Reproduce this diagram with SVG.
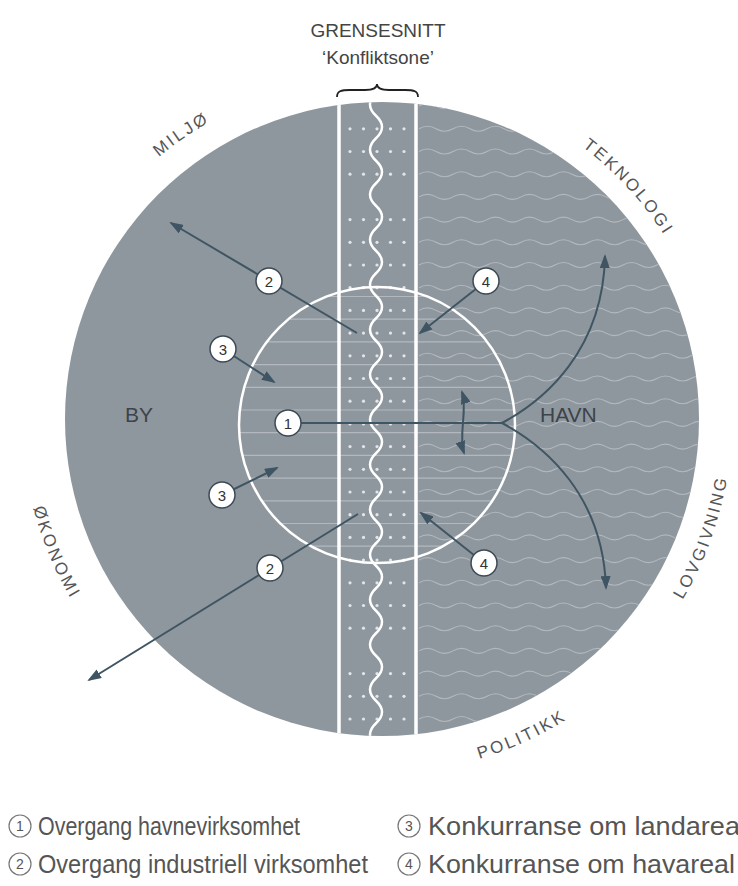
<svg xmlns="http://www.w3.org/2000/svg" xmlns:xlink="http://www.w3.org/1999/xlink" width="738" height="886" viewBox="0 0 738 886">
<style>
.t{font-family:"Liberation Sans","DejaVu Sans",sans-serif}
.ttl{font-size:19px;fill:#444;text-anchor:middle}
.lbl{font-size:17px;fill:#555;letter-spacing:2.6px}
.reg{font-size:21px;fill:#3c434a}
.num{font-size:15px;fill:#333;text-anchor:middle}
.nc{fill:#fff;stroke:#3d4a55;stroke-width:1.5}
.arr{fill:none;stroke:#3f5563;stroke-width:2}
.leg{font-size:25px;fill:#555}
.lc{fill:none;stroke:#777;stroke-width:1.2}
.lnum{font-size:14px;fill:#555;text-anchor:middle}
.sea{fill:none;stroke:#b2b8be;stroke-width:1.1}
.hl{stroke:#b2b8be;stroke-width:1.2}
.dot{fill:#e2e6e9}
</style>
<defs>
<clipPath id="cBig"><circle cx="382" cy="419" r="317"/></clipPath>
<clipPath id="cIn"><circle cx="377" cy="425" r="138"/></clipPath>
<marker id="ah" viewBox="0 0 14 10" refX="12" refY="5" markerWidth="14" markerHeight="10" markerUnits="userSpaceOnUse" orient="auto-start-reverse"><path d="M0,0 L14,5 L0,10 z" fill="#3f5563"/></marker>
<path id="sw" d="M419,0 q8.5,-5 17,0 t17,0 t17,0 t17,0 t17,0 t17,0 t17,0 t17,0 t17,0 t17,0 t17,0 t17,0 t17,0 t17,0 t17,0 t17,0 t17,0 t17,0"/>
<path id="hline" d="M230,0 H525"/>
<g id="dr"><circle cx="350" cy="0" r="1.6"/><circle cx="363.5" cy="0" r="1.6"/><circle cx="377" cy="0" r="1.6"/><circle cx="390.5" cy="0" r="1.6"/><circle cx="404" cy="0" r="1.6"/></g>
<path id="pMil" d="M48.4,327.9 A341,341 0 0 1 409.7,79.6"/>
<path id="pTek" d="M420.3,80.8 A341,341 0 0 1 717.6,402.9"/>
<path id="pLov" d="M554.5,726.4 A355,355 0 0 0 710.6,297.6"/>
<path id="pPol" d="M282.7,761.3 A355,355 0 0 0 697.7,571.3"/>
<path id="pOko" d="M38.3,312.9 A355,355 0 0 0 213.6,734.2"/>
</defs>

<g id="title" class="t">
<text class="ttl" x="378" y="37">GRENSESNITT</text>
<text class="ttl" x="378" y="64">‘Konfliktsone’</text>
<path d="M337,97 C337,91 341,90 350,90 L365,90 C373,90 377,88 377,84 C377,88 381,90 389,90 L405,90 C414,90 418,91 418,97" fill="none" stroke="#222" stroke-width="1.8"/>
</g>

<g id="big-circle">
<circle cx="382" cy="419" r="317" fill="#8f979e"/>
</g>

<g id="havn-sea" clip-path="url(#cBig)" class="sea">
<use href="#sw" y="106.1"/><use href="#sw" y="128.8"/><use href="#sw" y="151.5"/><use href="#sw" y="174.2"/><use href="#sw" y="196.9"/><use href="#sw" y="219.6"/><use href="#sw" y="242.3"/><use href="#sw" y="265"/><use href="#sw" y="287.7"/><use href="#sw" y="310.4"/><use href="#sw" y="333.1"/><use href="#sw" y="355.8"/><use href="#sw" y="378.5"/><use href="#sw" y="401.2"/><use href="#sw" y="423.9"/><use href="#sw" y="446.6"/><use href="#sw" y="469.3"/><use href="#sw" y="492"/><use href="#sw" y="514.7"/><use href="#sw" y="537.4"/><use href="#sw" y="560.1"/><use href="#sw" y="582.8"/><use href="#sw" y="605.5"/><use href="#sw" y="628.2"/><use href="#sw" y="650.9"/><use href="#sw" y="673.6"/><use href="#sw" y="696.3"/><use href="#sw" y="719"/>
</g>

<g id="inner-lines" clip-path="url(#cIn)" class="hl">
<use href="#hline" y="296.5"/><use href="#hline" y="319.2"/><use href="#hline" y="341.9"/><use href="#hline" y="364.6"/><use href="#hline" y="387.3"/><use href="#hline" y="410"/><use href="#hline" y="432.7"/><use href="#hline" y="455.4"/><use href="#hline" y="478.1"/><use href="#hline" y="500.8"/><use href="#hline" y="523.5"/><use href="#hline" y="546.2"/>
</g>

<g id="strip" clip-path="url(#cBig)">
<g class="dot">
<use href="#dr" y="128.8"/><use href="#dr" y="151.5"/><use href="#dr" y="174.2"/><use href="#dr" y="219.6"/><use href="#dr" y="242.3"/><use href="#dr" y="265"/><use href="#dr" y="287.7"/><use href="#dr" y="310.4"/><use href="#dr" y="333.1"/><use href="#dr" y="355.8"/><use href="#dr" y="378.5"/><use href="#dr" y="401.2"/><use href="#dr" y="423.9"/><use href="#dr" y="446.6"/><use href="#dr" y="469.3"/><use href="#dr" y="492"/><use href="#dr" y="514.7"/><use href="#dr" y="537.4"/><use href="#dr" y="560.1"/><use href="#dr" y="582.8"/><use href="#dr" y="605.5"/><use href="#dr" y="628.2"/><use href="#dr" y="673.6"/><use href="#dr" y="696.3"/><use href="#dr" y="719"/>
</g>
<path d="M376,70.75 q12,11.25 0,22.5 t0,22.5 t0,22.5 t0,22.5 t0,22.5 t0,22.5 t0,22.5 t0,22.5 t0,22.5 t0,22.5 t0,22.5 t0,22.5 t0,22.5 t0,22.5 t0,22.5 t0,22.5 t0,22.5 t0,22.5 t0,22.5 t0,22.5 t0,22.5 t0,22.5 t0,22.5 t0,22.5 t0,22.5 t0,22.5 t0,22.5 t0,22.5 t0,22.5 t0,22.5" fill="none" stroke="#fff" stroke-width="2.5"/>
<line x1="339" y1="90" x2="339" y2="750" stroke="#fff" stroke-width="3.5"/>
<line x1="416" y1="90" x2="416" y2="750" stroke="#fff" stroke-width="3.5"/>
</g>

<g id="inner-circle">
<circle cx="377" cy="425" r="138" fill="none" stroke="#fff" stroke-width="2.5"/>
</g>

<g id="connectors" class="arr">
<path d="M357,333 L171,223" marker-end="url(#ah)"/>
<path d="M358,514 L89,680" marker-end="url(#ah)"/>
<path d="M486,281 L420,333" marker-end="url(#ah)"/>
<path d="M484,563 L421,513" marker-end="url(#ah)"/>
<path d="M223,349 L274,382" marker-end="url(#ah)"/>
<path d="M222,495 L277,468" marker-end="url(#ah)"/>
<path d="M288,423 L502,423"/>
<path d="M502,423 C545,400 603,350 605,256" marker-end="url(#ah)"/>
<path d="M502,423 C545,446 603,495 606,588" marker-end="url(#ah)"/>
<path d="M462,392 C468,410 458,435 464,453" marker-start="url(#ah)" marker-end="url(#ah)"/>
</g>

<g id="n1" class="t"><circle class="nc" cx="288" cy="423" r="13"/><text class="num" x="288" y="428.5">1</text></g>
<g id="n2a" class="t"><circle class="nc" cx="269" cy="281" r="13"/><text class="num" x="269" y="286.5">2</text></g>
<g id="n2b" class="t"><circle class="nc" cx="270" cy="568" r="13"/><text class="num" x="270" y="573.5">2</text></g>
<g id="n3a" class="t"><circle class="nc" cx="223" cy="349" r="13"/><text class="num" x="223" y="354.5">3</text></g>
<g id="n3b" class="t"><circle class="nc" cx="222" cy="495" r="13"/><text class="num" x="222" y="500.5">3</text></g>
<g id="n4a" class="t"><circle class="nc" cx="486" cy="281" r="13"/><text class="num" x="486" y="286.5">4</text></g>
<g id="n4b" class="t"><circle class="nc" cx="484" cy="563" r="13"/><text class="num" x="484" y="568.5">4</text></g>

<g id="region-by" class="t"><text class="reg" x="125" y="422">BY</text></g>
<g id="region-havn" class="t"><text class="reg" x="540" y="422">HAVN</text></g>

<g id="outer-labels" class="t lbl">
<text><textPath href="#pMil" startOffset="50%" text-anchor="middle">MILJØ</textPath></text>
<text><textPath href="#pTek" startOffset="50%" text-anchor="middle">TEKNOLOGI</textPath></text>
<text><textPath href="#pLov" startOffset="50%" text-anchor="middle">LOVGIVNING</textPath></text>
<text><textPath href="#pPol" startOffset="50%" text-anchor="middle">POLITIKK</textPath></text>
<text><textPath href="#pOko" startOffset="50%" text-anchor="middle">ØKONOMI</textPath></text>
</g>

<g id="legend" class="t">
<g id="leg1"><circle class="lc" cx="20" cy="826" r="11"/><text class="lnum" x="20" y="831">1</text><text class="leg" x="38" y="835" textLength="262" lengthAdjust="spacingAndGlyphs">Overgang havnevirksomhet</text></g>
<g id="leg2"><circle class="lc" cx="20" cy="864" r="11"/><text class="lnum" x="20" y="869">2</text><text class="leg" x="38" y="873" textLength="330" lengthAdjust="spacingAndGlyphs">Overgang industriell virksomhet</text></g>
<g id="leg3"><circle class="lc" cx="409" cy="826" r="11"/><text class="lnum" x="409" y="831">3</text><text class="leg" x="428" y="835" textLength="318" lengthAdjust="spacingAndGlyphs">Konkurranse om landareal</text></g>
<g id="leg4"><circle class="lc" cx="409" cy="864" r="11"/><text class="lnum" x="409" y="869">4</text><text class="leg" x="428" y="873" textLength="307" lengthAdjust="spacingAndGlyphs">Konkurranse om havareal</text></g>
</g>
</svg>
